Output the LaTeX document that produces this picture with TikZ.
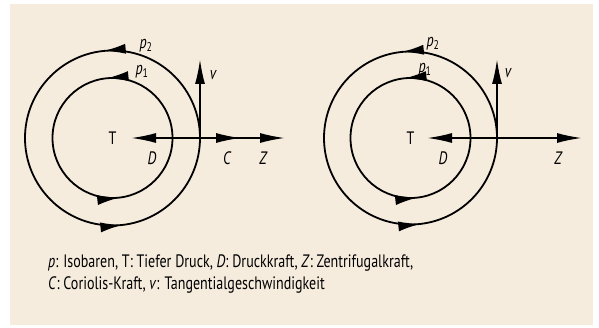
\documentclass[tikz,border=0pt]{standalone}
\usepackage{fontspec}
\setmainfont{PT Sans}[FakeStretch=0.78]
\usetikzlibrary{arrows.meta,decorations.markings}

\definecolor{paper}{RGB}{246,236,222}

\tikzset{
  force/.style={line width=1.8pt, -{Latex[length=25pt,width=10pt]}},
  isobar/.style={line width=1.8pt, postaction={decorate},
    decoration={markings,
      mark=at position 0.266 with {\arrow{Latex[length=22pt,width=10pt]}},
      mark=at position 0.768 with {\arrow{Latex[length=22pt,width=10pt]}}}},
  lbl/.style={inner sep=0pt, font=\fontsize{18}{21}\selectfont}
}

\begin{document}
\begin{tikzpicture}[x=1pt, y=1pt]

  % frame and paper
  \useasboundingbox (0,0) rectangle (599,327);
  \fill[paper] (10,2) rectangle (593,323);

  % Left: low with Coriolis force
  \coordinate (lT) at (112.5,189);
  \draw[isobar] (lT) ++(60,0) arc[start angle=0, end angle=360, radius=60];
  \draw[isobar] (lT) ++(87.5,0) arc[start angle=0, end angle=360, radius=87.5];
  \node[lbl] (lTlab) at (lT) {T};
  \coordinate (lP) at (200,189);
  \coordinate (lD) at (131,189);
  \coordinate (lC) at (241,189);
  \coordinate (lZ) at (285,189);
  \coordinate (lv) at (200,268);
  \draw[force] (lP) -- (lD);
  \draw[force] (lP) -- (lZ);
  \draw[force] (lP) -- (lC);
  \draw[force] (lP) -- (lv);
  \node[lbl] (lDlab) at (152,169) {\itshape D};
  \node[lbl] (lClab) at (227,169) {\itshape C};
  \node[lbl] (lZlab) at (263,169) {\itshape Z};
  \node[lbl] (lvlab) at (213,252) {\itshape v};
  \node[lbl] (lp1) at (142,255) {\textit{p}\textsubscript{1}};
  \node[lbl] (lp2) at (146,281) {\textit{p}\textsubscript{2}};

  % Right: low without Coriolis force
  \coordinate (rT) at (410.5,189);
  \draw[isobar] (rT) ++(60,0) arc[start angle=0, end angle=360, radius=60];
  \draw[isobar] (rT) ++(86.5,0) arc[start angle=0, end angle=360, radius=86.5];
  \node[lbl] (rTlab) at (rT) {T};
  \coordinate (rP) at (497,189);
  \coordinate (rD) at (427,189);
  \coordinate (rZ) at (582,189);
  \coordinate (rv) at (497,268);
  \draw[force] (rP) -- (rD);
  \draw[force] (rP) -- (rZ);
  \draw[force] (rP) -- (rv);
  \node[lbl] (rDlab) at (443,169) {\itshape D};
  \node[lbl] (rZlab) at (558,169) {\itshape Z};
  \node[lbl] (rvlab) at (508,254) {\itshape v};
  \node[lbl] (rp1) at (425,257) {\textit{p}\textsubscript{1}};
  \node[lbl] (rp2) at (433,283) {\textit{p}\textsubscript{2}};

  % Legend
  \node[lbl, anchor=base west] (cap1) at (48,59.5)
    {\textit{p}: Isobaren, T: Tiefer Druck, \textit{D}: Druckkraft, \textit{Z}: Zentrifugalkraft,};
  \node[lbl, anchor=base west] (cap2) at (48,38)
    {\textit{C}: Coriolis-Kraft, \textit{v}: Tangentialgeschwindigkeit};

\end{tikzpicture}
\end{document}
